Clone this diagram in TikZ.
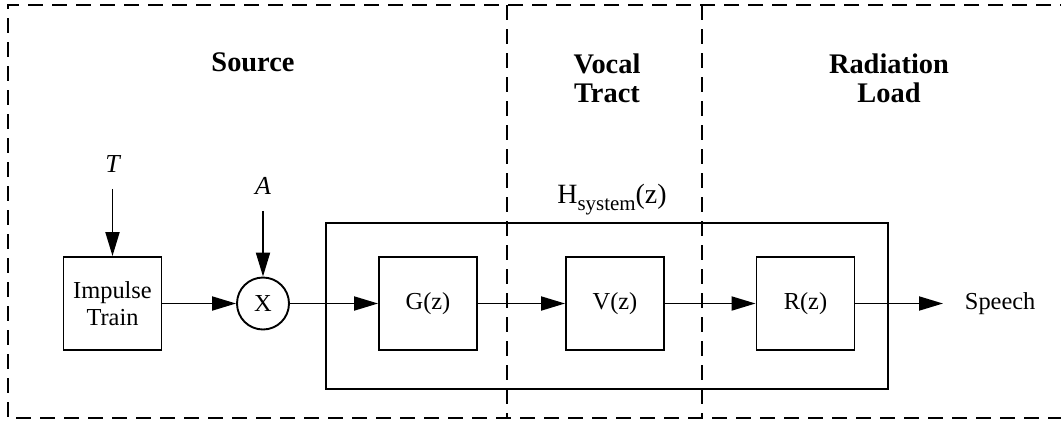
\documentclass[tikz,border=0pt]{standalone}
\usepackage{fontspec}
\setmainfont{Liberation Serif}
\usetikzlibrary{arrows.meta}
\begin{document}
\begin{tikzpicture}[x=1bp,y=-1bp,line width=1.9bp,
  blk/.style={draw,rectangle,inner sep=0pt,minimum width=98bp,minimum height=93bp,
    font=\fontsize{24.5}{27}\selectfont,align=center},
  arr/.style={-{Triangle[length=24bp,width=14bp]}},
  hdr/.style={font=\fontsize{28.5}{29}\selectfont\bfseries,align=center,inner sep=0pt},
  sig/.style={font=\fontsize{26}{28}\selectfont\itshape,inner sep=0pt},
  zone/.style={dashed,dash pattern=on 15bp off 9bp}]
\useasboundingbox (0,0) rectangle (1061,421);
% zones
\draw[zone] (1075,5) -- (8,5) -- (8,418) -- (1075,418);
\coordinate (d1t) at (507,5); \coordinate (d1b) at (507,418);
\coordinate (d2t) at (702,5); \coordinate (d2b) at (702,418);
\draw[zone] (d1t) -- (d1b);
\draw[zone] (d2t) -- (d2b);
% headings
\node[hdr,anchor=base] (src) at (253,71) {Source};
\node[hdr] (voc) at (607,78) {Vocal\\Tract};
\node[hdr] (rad) at (889,78) {Radiation\\Load};
% system box
\node[draw,rectangle,inner sep=0pt,minimum width=562bp,minimum height=166bp] (hsys) at (607,306) {};
\node[font=\fontsize{28}{30}\selectfont,anchor=base,inner sep=0pt] (hlab) at (612,203)
  {H\raisebox{-7bp}{\fontsize{21}{21}\selectfont system}(z)};
% blocks
\node[blk] (imp) at (112.5,303.5) {Impulse\\Train};
\node[draw,circle,minimum size=52bp,inner sep=0pt,font=\fontsize{24.5}{26}\selectfont] (mul) at (263,303.5) {X};
\node[blk] (g) at (428,303.5) {G(z)};
\node[blk] (v) at (615,303.5) {V(z)};
\node[blk] (r) at (805.5,303.5) {R(z)};
\node[font=\fontsize{24.5}{26}\selectfont,anchor=west,inner xsep=21bp,inner ysep=0pt] (sp) at (943,303.5) {Speech};
% inputs
\node[sig,anchor=base] (T) at (112.5,172) {T};
\node[sig,anchor=base] (A) at (263,194) {A};
% connectors
\draw[arr,shorten <=16bp] (T.south) -- (imp.north);
\draw[arr,shorten <=16bp] (A.south) -- (mul.north);
\draw[arr] (imp.east) -- (mul.west);
\draw[arr] (mul.east) -- (g.west);
\draw[arr] (g.east) -- (v.west);
\draw[arr] (v.east) -- (r.west);
\draw[arr] (r.east) -- (sp.west);
\end{tikzpicture}
\end{document}
